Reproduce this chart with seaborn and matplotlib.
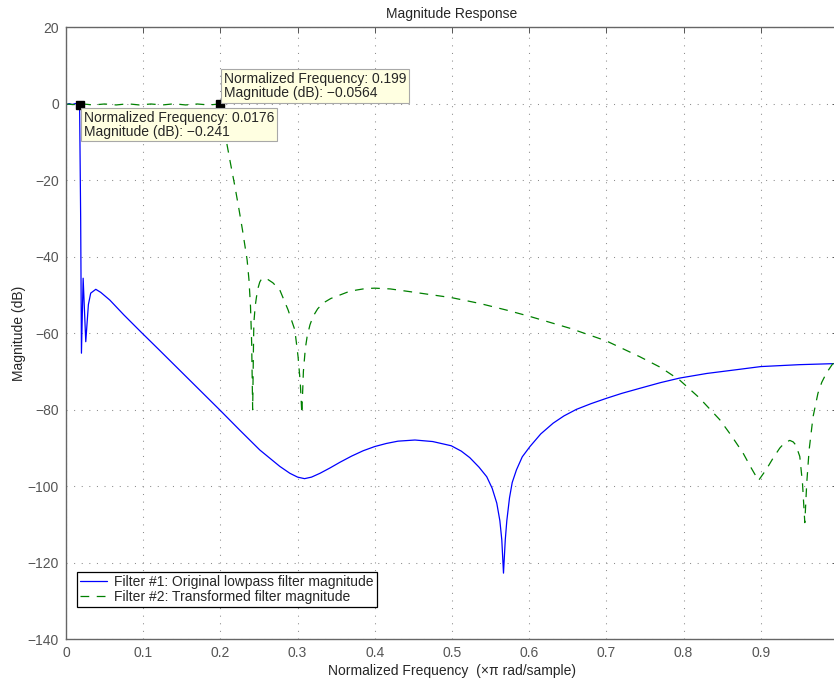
import matplotlib
matplotlib.use("Agg")
import matplotlib.pyplot as plt
import seaborn as sns
import pandas as pd
from matplotlib.ticker import FuncFormatter

# Filter #1: original lowpass (normalized freq, dB)
f1_freq = [0.0000, 0.0040, 0.0080, 0.0120, 0.0155, 0.0176, 0.0190, 0.0200,
           0.0222, 0.0256, 0.0290, 0.0320, 0.0386, 0.0450, 0.0567, 0.0750,
           0.0978, 0.1200, 0.1430, 0.1730, 0.2000, 0.2250, 0.2510, 0.2770,
           0.2900, 0.3000, 0.3090, 0.3180, 0.3290, 0.3420, 0.3550, 0.3700,
           0.3850, 0.4000, 0.4150, 0.4300, 0.4520, 0.4750, 0.4990, 0.5120,
           0.5230, 0.5350, 0.5450, 0.5520, 0.5580, 0.5620, 0.5645, 0.5667,
           0.5690, 0.5710, 0.5745, 0.5780, 0.5835, 0.5910, 0.6010, 0.6150,
           0.6310, 0.6450, 0.6610, 0.6800, 0.7000, 0.7200, 0.7430, 0.7700,
           0.7950, 0.8300, 0.8730, 0.9000, 0.9500, 1.0000]
f1_mag = [-0.30, 0.05, -0.20, 0.05, -0.10, -0.241, -30.0, -65.2,
          -45.6, -62.2, -52.5, -49.5, -48.5, -49.3, -51.3, -55.2,
          -59.8, -64.2, -68.8, -74.8, -80.2, -85.3, -90.5, -94.8,
          -96.6, -97.6, -98.0, -97.6, -96.6, -95.2, -93.7, -92.1,
          -90.7, -89.6, -88.8, -88.2, -87.9, -88.3, -89.4, -90.8,
          -92.5, -95.0, -97.5, -100.5, -104.4, -109.0, -114.0, -122.7,
          -114.0, -109.0, -103.0, -99.0, -95.7, -92.3, -89.6, -86.3,
          -83.5, -81.6, -79.9, -78.4, -77.0, -75.7, -74.4, -72.9,
          -71.7, -70.5, -69.4, -68.7, -68.2, -67.9]

# Filter #2: transformed filter
f2_freq = [0.000, 0.010, 0.020, 0.035, 0.050, 0.065, 0.080, 0.095, 0.110,
           0.125, 0.140, 0.155, 0.170, 0.185, 0.199, 0.201, 0.203, 0.2075,
           0.2130, 0.2187, 0.2240, 0.2286, 0.2346, 0.2370, 0.2390, 0.2405,
           0.2418, 0.2428, 0.2433, 0.2450, 0.2468, 0.2490, 0.2510, 0.2530,
           0.2553, 0.2590, 0.2620, 0.2680, 0.2770, 0.2877, 0.2920, 0.2964,
           0.3006, 0.3035, 0.3055, 0.3075, 0.3100, 0.3123, 0.3160, 0.3200,
           0.3260, 0.3330, 0.3430, 0.3547, 0.3650, 0.3760, 0.3880, 0.4000,
           0.4200, 0.4450, 0.5000, 0.5360, 0.5700, 0.6010, 0.6530, 0.7000,
           0.7430, 0.7700, 0.7947, 0.8200, 0.8469, 0.8620, 0.8770, 0.8870,
           0.8970, 0.9074, 0.9160, 0.9246, 0.9310, 0.9376, 0.9420, 0.9453,
           0.9505, 0.9540, 0.9570, 0.9595, 0.9626, 0.9677, 0.9740, 0.9790,
           0.9850, 0.9930, 1.0000]
f2_mag = [-0.05, -0.20, 0.00, -0.30, -0.05, -0.30, 0.00, -0.30, -0.05,
          -0.30, 0.00, -0.30, -0.05, -0.30, -0.0564, -1.0, -3.0, -9.5,
          -15.5, -21.5, -27.5, -33.0, -40.8, -46.0, -53.0, -62.6,
          -80.0, -64.0, -57.4, -53.0, -50.4, -48.0, -46.6, -45.9,
          -45.6, -45.6, -46.0, -46.8, -48.7, -53.9, -56.5, -59.1,
          -66.1, -73.0, -81.0, -70.0, -64.0, -60.9, -57.8, -55.6,
          -53.6, -52.1, -50.9, -50.0, -49.2, -48.7, -48.3, -48.2,
          -48.4, -49.1, -50.7, -52.2, -53.9, -55.6, -58.7, -62.0,
          -66.1, -68.9, -72.2, -76.8, -82.6, -86.8, -91.3, -95.0,
          -98.5, -95.5, -92.6, -90.0, -88.6, -88.0, -88.4, -89.2,
          -92.2, -99.2, -109.5, -99.2, -90.5, -81.8, -75.7, -72.8,
          -70.4, -68.0, -67.5]

labels = ["Filter #1: Original lowpass filter magnitude",
          "Filter #2: Transformed filter magnitude"]

tip1 = (0.0176, -0.241)
tip2 = (0.199, -0.0564)

sns.set_theme(style="white")
plt.rcParams["font.family"] = ["Liberation Sans", "DejaVu Sans"]
plt.rcParams["font.size"] = 10

fig = plt.figure(figsize=(8.34, 6.8), dpi=100)
ax = fig.add_axes([66 / 834, 40.7 / 680, 772 / 834, 612 / 680])

df1 = pd.DataFrame({"freq": f1_freq, "mag": f1_mag})
df2 = pd.DataFrame({"freq": f2_freq, "mag": f2_mag})
sns.lineplot(data=df1, x="freq", y="mag", ax=ax, color="#0000ff",
             linewidth=0.9, label=labels[0], estimator=None)
sns.lineplot(data=df2, x="freq", y="mag", ax=ax, color="#008000",
             linewidth=0.9, linestyle=(0, (7, 6)), label=labels[1],
             estimator=None)

ax.set_xlim(0, 1)
ax.set_ylim(-140, 20)
ax.set_xticks([0, 0.1, 0.2, 0.3, 0.4, 0.5, 0.6, 0.7, 0.8, 0.9])
ax.set_yticks(range(-140, 21, 20))
ax.xaxis.set_major_formatter(FuncFormatter(lambda v, p: "0" if v == 0 else f"{v:.1f}"))
ax.yaxis.set_major_formatter(FuncFormatter(lambda v, p: f"{int(v)}".replace("-", "\u2212")))

ax.grid(True, color="#8c8c8c", linestyle=(0, (1, 6.3)), linewidth=0.75)
ax.tick_params(direction="in", length=4.5, width=0.7, colors="#555555",
               top=True, right=True, labelsize=10, pad=5)
for sp in ax.spines.values():
    sp.set_color("#666666")
    sp.set_linewidth(1.0)

ax.set_xlabel("Normalized Frequency  (\u00d7\u03c0 rad/sample)", fontsize=10, labelpad=3)
ax.set_ylabel("Magnitude (dB)", fontsize=10, labelpad=1)
ax.set_title("Magnitude Response", fontsize=10, pad=7)

leg = ax.legend(loc="lower left", bbox_to_anchor=(0.0139, 0.0533),
                borderaxespad=0, fancybox=False, shadow=False, framealpha=1,
                edgecolor="black", fontsize=10, handlelength=2.0,
                handletextpad=0.5, labelspacing=0.05, borderpad=0.2)
leg.get_frame().set_linewidth(0.9)

# data tips
for (x, y), off, va in [(tip1, (4, -6), "top"), (tip2, (4, 4), "bottom")]:
    ax.plot([x], [y], marker="s", color="black", markersize=5.5, zorder=6)
    ax.annotate(f"Normalized Frequency: {x:g}\nMagnitude (dB): {y:g}".replace("-", "\u2212"),
                xy=(x, y), xytext=off, textcoords="offset pixels",
                ha="left", va=va, fontsize=10, linespacing=1.0, zorder=7,
                bbox=dict(boxstyle="square,pad=0.2", fc="#ffffe1", ec="#a8a8a8", lw=0.8))

plt.savefig("out.png", dpi=100)
